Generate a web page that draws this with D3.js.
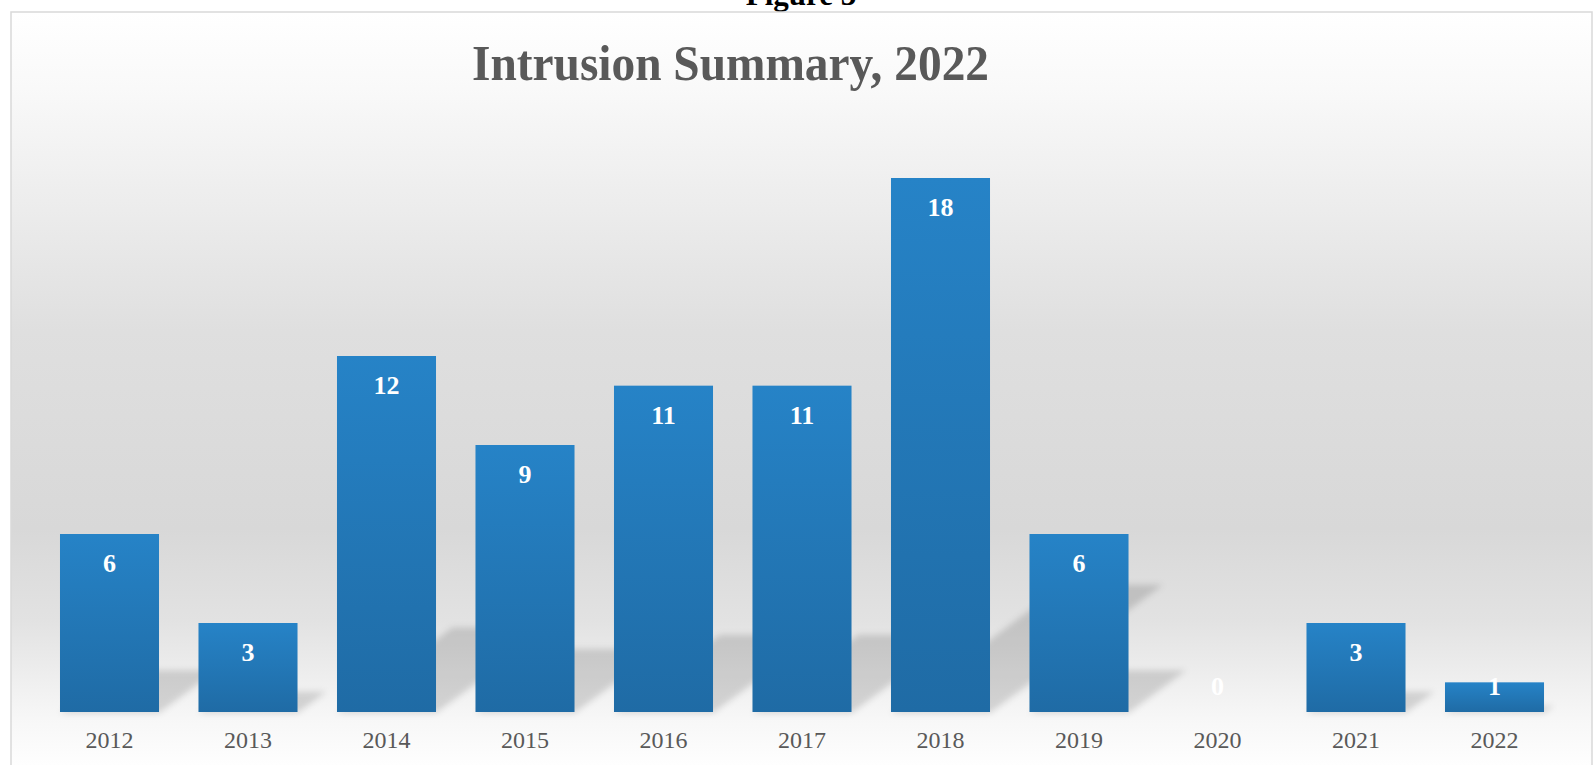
<!DOCTYPE html>
<html>
<head>
<meta charset="utf-8">
<script src="https://cdn.jsdelivr.net/npm/d3@7"></script>
<style>
  html, body { margin: 0; padding: 0; background: #fff; }
  svg { display: block; }
</style>
</head>
<body>
<svg id="chart" width="1594" height="765"></svg>
<script>
// chart data
const years = ['2012','2013','2014','2015','2016','2017','2018','2019','2020','2021','2022'];
const intrusions = [6, 3, 12, 9, 11, 11, 18, 6, 0, 3, 1];
const chartTitle = 'Intrusion Summary, 2022';
const figureLabel = 'Figure 3';

const data = years.map((y, i) => ({ year: y, value: intrusions[i] }));

const svg = d3.select('#chart');
const defs = svg.append('defs');

// background gradient of the chart area
let bg = defs.append('linearGradient').attr('id', 'bgGrad')
    .attr('x1', 0).attr('y1', 0).attr('x2', 0).attr('y2', 1);
[[0, '#ffffff'], [0.1, '#f9f9f9'], [0.42, '#dfdfdf'], [0.68, '#d8d8d8'],
 [0.8, '#e2e2e2'], [0.93, '#f7f7f7'], [1, '#ffffff']]
    .forEach(s => bg.append('stop').attr('offset', s[0]).attr('stop-color', s[1]));

// bar gradient
let bg2 = defs.append('linearGradient').attr('id', 'barGrad')
    .attr('x1', 0).attr('y1', 0).attr('x2', 0).attr('y2', 1);
bg2.append('stop').attr('offset', 0).attr('stop-color', '#2683c7');
bg2.append('stop').attr('offset', 1).attr('stop-color', '#1f6ba5');

defs.append('filter').attr('id', 'blur')
    .attr('x', '-20%').attr('y', '-20%').attr('width', '140%').attr('height', '140%')
    .append('feGaussianBlur').attr('stdDeviation', 3);

defs.append('clipPath').attr('id', 'frameClip')
    .append('rect').attr('x', 11).attr('y', 12).attr('width', 1581).attr('height', 753);

// figure caption (cut off at top)
svg.append('text')
    .attr('x', 801).attr('y', 5)
    .attr('text-anchor', 'middle')
    .attr('font-family', '"Liberation Serif", "Times New Roman", serif')
    .attr('font-weight', 'bold')
    .attr('font-size', 31)
    .attr('fill', '#000')
    .text(figureLabel);

// chart frame
svg.append('rect')
    .attr('x', 11).attr('y', 12).attr('width', 1581).attr('height', 760)
    .attr('fill', 'url(#bgGrad)')
    .attr('stroke', '#d9d9d9').attr('stroke-width', 1.5);

// scales
let x = d3.scaleBand()
    .domain(years)
    .range([40.25, 1563.75])
    .paddingInner(0.285)
    .paddingOuter(0.1425);

let y = d3.scaleLinear()
    .domain([0, 20])
    .range([712, 118.67]);

const plot = svg.append('g').attr('clip-path', 'url(#frameClip)');

// perspective shadows behind the bars
plot.append('g')
    .attr('class', 'shadows')
    .attr('filter', 'url(#blur)')
    .selectAll('path')
    .data(data.filter(d => d.value > 0))
    .join('path')
    .attr('d', d => {
        let h = y(0) - y(d.value);
        let sh = 0.24 * h, dx = 0.324 * h;
        let x0 = x(d.year), x1 = x(d.year) + x.bandwidth(), b = y(0) + 1;
        return `M${x0},${b}L${x1},${b}L${x1 + dx},${b - sh}L${x0 + dx},${b - sh}Z`;
    })
    .attr('fill', '#000')
    .attr('fill-opacity', 0.14);

// bars
plot.append('g')
    .attr('class', 'bars')
    .selectAll('rect')
    .data(data)
    .join('rect')
    .attr('x', d => x(d.year))
    .attr('y', d => y(d.value))
    .attr('width', x.bandwidth())
    .attr('height', d => y(0) - y(d.value))
    .attr('fill', 'url(#barGrad)');

// value labels
plot.append('g')
    .attr('class', 'labels')
    .selectAll('text')
    .data(data)
    .join('text')
    .attr('x', d => x(d.year) + x.bandwidth() / 2)
    .attr('y', d => Math.min(y(d.value) + 38, 695))
    .attr('text-anchor', 'middle')
    .attr('font-family', '"Liberation Serif", "Times New Roman", serif')
    .attr('font-weight', 'bold')
    .attr('font-size', 26)
    .attr('fill', '#fff')
    .text(d => d.value);

// category axis
let xAxis = svg.append('g')
    .attr('transform', `translate(0,${y(0)})`)
    .call(d3.axisBottom(x).tickSize(0).tickPadding(36));
xAxis.select('.domain').remove();
xAxis.selectAll('text')
    .attr('dy', 0)
    .attr('font-family', '"Liberation Serif", "Times New Roman", serif')
    .attr('font-size', 24)
    .attr('fill', '#595959');

// title
svg.append('text')
    .attr('x', 472).attr('y', 80)
    .attr('font-family', '"Liberation Serif", "Times New Roman", serif')
    .attr('font-weight', 'bold')
    .attr('font-size', 51)
    .attr('textLength', 517)
    .attr('lengthAdjust', 'spacingAndGlyphs')
    .attr('fill', '#595959')
    .text(chartTitle);
</script>
</body>
</html>
